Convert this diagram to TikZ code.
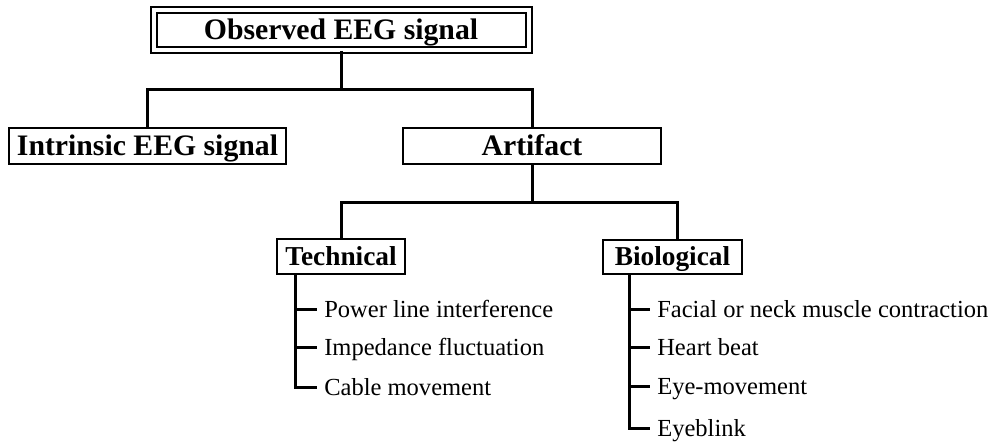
\documentclass[tikz,border=0pt]{standalone}
\usepackage{fontspec}
\setmainfont{Liberation Serif}
\begin{document}
\begin{tikzpicture}[x=0.75pt,y=-0.75pt,
  box/.style={draw,line width=1.5pt,inner sep=0pt,text height=14.7pt,text depth=0pt,font=\bfseries\fontsize{22.3}{26}\selectfont},
  subbox/.style={box,text height=13.5pt,font=\bfseries\fontsize{20.5}{24}\selectfont},
  item/.style={anchor=west,inner xsep=5.25pt,inner ysep=0pt,font=\fontsize{18.4}{22}\selectfont,text height=12.1pt,text depth=0pt},
  link/.style={line width=2.25pt},
]
\useasboundingbox (0,0) rectangle (993,442);

% boxes
\node[box,double,double distance=3pt,minimum width=281.25pt,minimum height=30pt] (top) at (341,30) {Observed EEG signal};
\node[box,minimum width=207.75pt,minimum height=27pt] (intr) at (147.5,146) {Intrinsic EEG signal};
\node[box,minimum width=193.5pt,minimum height=27pt] (art) at (532,146) {Artifact};
\node[subbox,minimum width=96pt,minimum height=26.25pt] (tech) at (341,256.5) {Technical};
\node[subbox,minimum width=104.25pt,minimum height=25.5pt] (bio) at (672.5,257) {Biological};

% junctions
\coordinate (j1) at (341,90);
\coordinate (j2) at (532,203);
\coordinate (ts) at (295,274);
\coordinate (bs) at (629,274);
\coordinate (bt) at (677,240);

% items
\node[item] (t1) at (317,309) {Power line interference};
\node[item] (t2) at (317,347) {Impedance fluctuation};
\node[item] (t3) at (317,387) {Cable movement};
\node[item] (b1) at (650,309) {Facial or neck muscle contraction};
\node[item] (b2) at (650,347) {Heart beat};
\node[item] (b3) at (650,386) {Eye-movement};
\node[item] (b4) at (650,428) {Eyeblink};

% tree connectors
\draw[link] (top.south) -- (j1);
\draw[link] (intr.north) |- (j1) -| (art.north);
\draw[link] (art.south) -- (j2);
\draw[link] (tech.north) |- (j2) -| (bt);

\draw[link] (ts) |- (t3.west);
\draw[link] (t1.west -| ts) -- (t1.west);
\draw[link] (t2.west -| ts) -- (t2.west);

\draw[link] (bs) |- (b4.west);
\draw[link] (b1.west -| bs) -- (b1.west);
\draw[link] (b2.west -| bs) -- (b2.west);
\draw[link] (b3.west -| bs) -- (b3.west);
\end{tikzpicture}
\end{document}
